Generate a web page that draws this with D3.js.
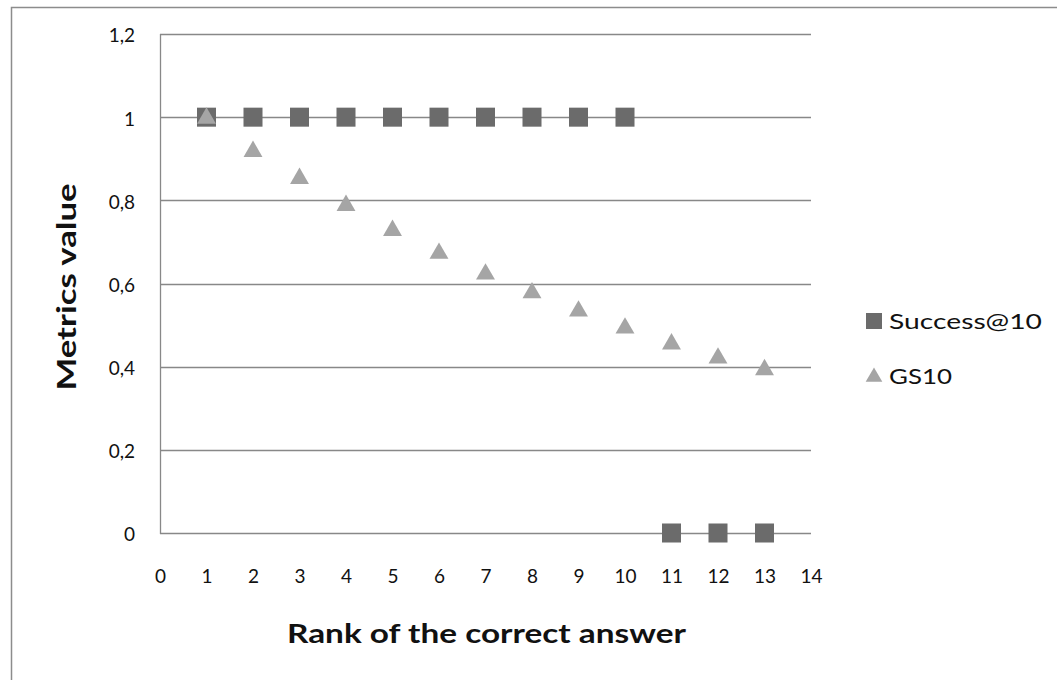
<!DOCTYPE html>
<html>
<head>
<meta charset="utf-8">
<script src="https://cdn.jsdelivr.net/npm/d3@7"></script>
<style>
  html, body { margin: 0; padding: 0; background: #ffffff; }
  svg { display: block; }
  text { font-family: Lato, "Open Sans", sans-serif; fill: #111; }
</style>
</head>
<body>
<svg id="chart" width="1057" height="680"></svg>
<script>
const ranks = [1, 2, 3, 4, 5, 6, 7, 8, 9, 10, 11, 12, 13];
const success10 = [1, 1, 1, 1, 1, 1, 1, 1, 1, 1, 0, 0, 0];
const gs10 = [1, 0.92, 0.855, 0.79, 0.73, 0.675, 0.625, 0.58, 0.536, 0.495, 0.457, 0.423, 0.395];
const xTicks = [0, 1, 2, 3, 4, 5, 6, 7, 8, 9, 10, 11, 12, 13, 14];
const yTicks = [0, 0.2, 0.4, 0.6, 0.8, 1, 1.2];
const seriesNames = ["Success@10", "GS10"];
const xTitle = "Rank of the correct answer";
const yTitle = "Metrics value";

const svg = d3.select("#chart");
const plot = { left: 160, right: 811, top: 34, bottom: 533 };

const x = d3.scaleLinear().domain([0, 14]).range([plot.left, plot.right]);
const y = d3.scaleLinear().domain([0, 1.2]).range([plot.bottom, plot.top]);
const fmt = v => String(+v.toFixed(1)).replace(".", ",");

// outer chart border
svg.append("rect")
  .attr("x", 11.5).attr("y", 7.5)
  .attr("width", 1100).attr("height", 720)
  .attr("fill", "#fff").attr("stroke", "#8c8c8c").attr("stroke-width", 1.5);

// gridlines
svg.append("g").selectAll("line").data(yTicks).join("line")
  .attr("x1", plot.left).attr("x2", plot.right)
  .attr("y1", d => Math.round(y(d)) + 0.5).attr("y2", d => Math.round(y(d)) + 0.5)
  .attr("stroke", "#888").attr("stroke-width", 1.3);

// y axis line
svg.append("line")
  .attr("x1", plot.left + 0.5).attr("x2", plot.left + 0.5)
  .attr("y1", plot.top).attr("y2", plot.bottom + 1)
  .attr("stroke", "#888").attr("stroke-width", 1.3);

// y axis labels
const yAxis = svg.append("g")
  .attr("transform", `translate(${plot.left},0)`)
  .call(d3.axisLeft(y).tickValues(yTicks).tickFormat(fmt).tickSize(0).tickPadding(25));
yAxis.select(".domain").remove();
yAxis.selectAll("text")
  .style("font-family", "Lato, 'Open Sans', sans-serif")
  .attr("font-size", 19).attr("fill", "#111").attr("dy", "0.42em");

// x axis labels
const xAxis = svg.append("g")
  .attr("transform", `translate(0,${plot.bottom})`)
  .call(d3.axisBottom(x).tickValues(xTicks).tickFormat(d3.format("d")).tickSize(0).tickPadding(50));
xAxis.select(".domain").remove();
xAxis.selectAll("text")
  .style("font-family", "Lato, 'Open Sans', sans-serif")
  .attr("font-size", 19).attr("fill", "#111").attr("dy", "0");

// axis titles
svg.append("text")
  .attr("x", (287 + 686) / 2).attr("y", 643)
  .attr("text-anchor", "middle")
  .attr("font-weight", "bold").attr("font-size", 26)
  .attr("textLength", 399).attr("lengthAdjust", "spacingAndGlyphs")
  .text(xTitle);

svg.append("text")
  .attr("transform", "translate(76,287) rotate(-90)")
  .attr("text-anchor", "middle")
  .attr("font-weight", "bold").attr("font-size", 27)
  .attr("textLength", 207).attr("lengthAdjust", "spacingAndGlyphs")
  .text(yTitle);

const sq = 19;
const triPath = d3.symbol().type(d3.symbolTriangle).size(155);

// Success@10 squares
svg.append("g").selectAll("rect").data(ranks.map((r, i) => [r, success10[i]])).join("rect")
  .attr("x", d => x(d[0]) - sq / 2).attr("y", d => y(d[1]) - sq / 2)
  .attr("width", sq).attr("height", sq)
  .attr("fill", "#6b6b6b");

// GS10 triangles
svg.append("g").selectAll("path").data(ranks.map((r, i) => [r, gs10[i]])).join("path")
  .attr("d", triPath)
  .attr("transform", d => `translate(${x(d[0])},${y(d[1]) + 1})`)
  .attr("fill", "#a5a5a5");

// legend
const legend = svg.append("g");
legend.append("rect").attr("x", 866).attr("y", 313).attr("width", 16).attr("height", 16).attr("fill", "#6b6b6b");
legend.append("path").attr("d", d3.symbol().type(d3.symbolTriangle).size(120))
  .attr("transform", "translate(874,377)").attr("fill", "#a5a5a5");
legend.append("text").attr("x", 889).attr("y", 329).attr("font-size", 22)
  .attr("textLength", 153).attr("lengthAdjust", "spacingAndGlyphs").text(seriesNames[0]);
legend.append("text").attr("x", 889).attr("y", 384).attr("font-size", 22)
  .attr("textLength", 63).attr("lengthAdjust", "spacingAndGlyphs").text(seriesNames[1]);
</script>
</body>
</html>
